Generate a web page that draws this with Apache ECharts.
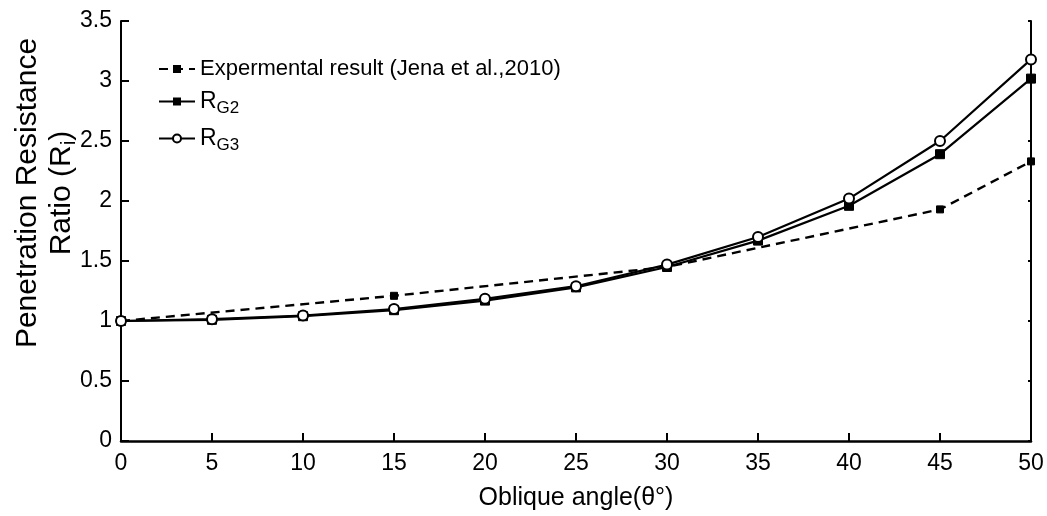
<!DOCTYPE html>
<html>
<head>
<meta charset="utf-8">
<script src="https://cdn.jsdelivr.net/npm/echarts@6/dist/echarts.min.js"></script>
<style>
html,body{margin:0;padding:0;background:#fff;}
#chart{width:1047px;height:516px;}
</style>
</head>
<body>
<div id="chart"></div>
<script>
// Data
const angles = [0, 5, 10, 15, 20, 25, 30, 35, 40, 45, 50];
const rG2 = [1.0, 1.01, 1.04, 1.09, 1.17, 1.28, 1.45, 1.67, 1.96, 2.39, 3.02];
const rG3 = [1.0, 1.015, 1.045, 1.10, 1.185, 1.29, 1.47, 1.70, 2.02, 2.50, 3.18];
const expAngles = [0, 15, 30, 45, 50];
const expValues = [1.0, 1.21, 1.45, 1.93, 2.33];
const xTicks = [0, 5, 10, 15, 20, 25, 30, 35, 40, 45, 50];
const yTicks = [0, 0.5, 1, 1.5, 2, 2.5, 3, 3.5];

const FONT = '"Liberation Sans", Arial, Helvetica, sans-serif';
const pair = (xs, ys) => xs.map((x, i) => [x, ys[i]]);

const chart = echarts.init(document.getElementById('chart'), null, {renderer: 'canvas'});
const axisCommon = {
  min: 0,
  axisLine: {show: true, lineStyle: {color: '#000', width: 2}},
  splitLine: {show: false},
};
chart.setOption({
  animation: false,
  backgroundColor: '#fff',
  textStyle: {fontFamily: FONT, color: '#000'},
  grid: {left: 121, right: 16, top: 21, bottom: 75, containLabel: false, outerBoundsMode: 'none'},
  legend: {
    left: 153, top: 53, orient: 'vertical', itemGap: 10,
    itemWidth: 36, itemHeight: 10,
    textStyle: {
      fontFamily: FONT, fontSize: 22, color: '#000',
      rich: {
        n: {fontFamily: FONT, fontSize: 23, color: '#000'},
        s: {fontFamily: FONT, fontSize: 17, color: '#000', verticalAlign: 'top', padding: [14, 0, 0, 0]}
      }
    },
    formatter: function (name) {
      if (name === 'RG2') return '{n|R}{s|G2}';
      if (name === 'RG3') return '{n|R}{s|G3}';
      return name;
    },
    data: ['Expermental result (Jena et al.,2010)', 'RG2', 'RG3']
  },
  xAxis: {
    type: 'value', ...axisCommon, max: 50, interval: 5,
    axisLine: {show: true, onZero: false, lineStyle: {color: '#000', width: 2.5}},
    axisTick: {show: true, inside: true, length: 8, lineStyle: {color: '#000', width: 2}},
    axisLabel: {fontFamily: FONT, fontSize: 23, color: '#000', margin: 11,
      customValues: xTicks},
    name: 'Oblique angle(θ°)', nameLocation: 'middle', nameGap: 45,
    nameTextStyle: {fontFamily: FONT, fontSize: 25, color: '#000'}
  },
  yAxis: [{
    type: 'value', ...axisCommon, max: 3.5, interval: 0.5,
    axisTick: {show: true, inside: true, length: 8, lineStyle: {color: '#000', width: 2}},
    axisLabel: {fontFamily: FONT, fontSize: 23, color: '#000', margin: 9,
      formatter: v => String(v)},
    name: 'Penetration Resistance\nRatio (R{s|i})', nameLocation: 'middle', nameRotate: 90, nameGap: 42,
    nameMoveOverlap: false,
    nameTextStyle: {fontFamily: FONT, fontSize: 30, color: '#000', lineHeight: 34, align: 'center',
      padding: [0, 0, 0, 76],
      rich: {s: {fontFamily: FONT, fontSize: 21, color: '#000', verticalAlign: 'top', padding: [14, 0, 0, 0]}}}
  }, {
    type: 'value', position: 'right', ...axisCommon, max: 3.5, interval: 0.5,
    axisTick: {show: true, inside: true, length: 3, lineStyle: {color: '#000', width: 2}},
    axisLabel: {show: false}
  }],
  series: [{
    name: 'Expermental result (Jena et al.,2010)', type: 'line',
    data: pair(expAngles, expValues), clip: false, z: 2,
    lineStyle: {color: '#000', width: 2.4, type: [9, 6]},
    itemStyle: {color: '#000', borderColor: '#000'},
    symbol: 'rect', symbolSize: 7
  }, {
    name: 'RG2', type: 'line', data: pair(angles, rG2), clip: false, z: 3,
    lineStyle: {color: '#000', width: 2.2},
    itemStyle: {color: '#000', borderColor: '#000'},
    symbol: 'rect', symbolSize: 9
  }, {
    name: 'RG3', type: 'line', data: pair(angles, rG3), clip: false, z: 4,
    lineStyle: {color: '#000', width: 2.2},
    itemStyle: {color: '#fff', borderColor: '#000', borderWidth: 2},
    symbol: 'circle', symbolSize: 10
  }]
});
</script>
</body>
</html>
